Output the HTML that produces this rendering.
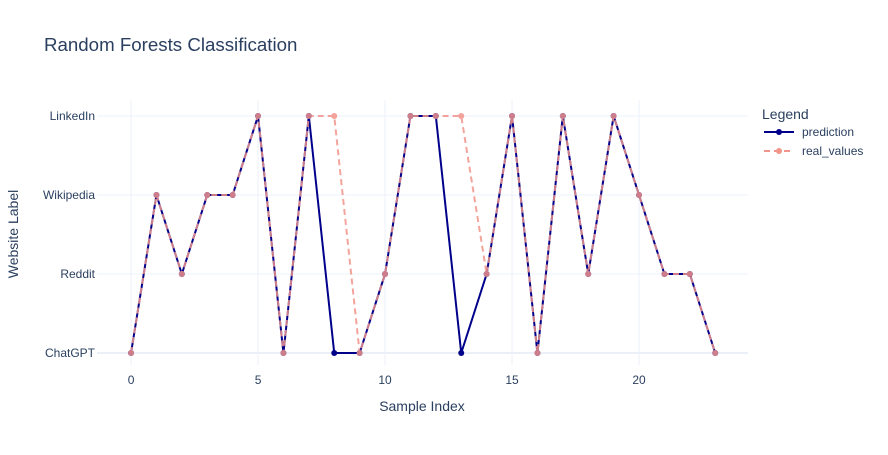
<!DOCTYPE html>
<html><head><meta charset="utf-8"><style>
body{margin:0;background:#fff;font-family:"Liberation Sans",Arial,sans-serif;}
svg text{font-family:"Liberation Sans",Arial,sans-serif;}
</style></head><body>
<svg id="chart" width="888" height="450" xmlns="http://www.w3.org/2000/svg">
<rect width="888" height="450" fill="#fff"/>
<text x="44" y="51" font-size="18.7" fill="#2a3f5f">Random Forests Classification</text>
<g id="grid"></g>
<g id="series"></g>
<text x="422" y="411" font-size="14" fill="#2a3f5f" text-anchor="middle">Sample Index</text>
<text transform="translate(18,234) rotate(-90)" font-size="14" fill="#2a3f5f" text-anchor="middle">Website Label</text>
<g>
<text x="762" y="119" font-size="14" fill="#2a3f5f">Legend</text>
<g>
<line x1="764" y1="132" x2="794" y2="132" stroke="#00008b" stroke-width="2"/>
<circle cx="779" cy="132" r="3" fill="#00008b"/>
<text x="802" y="136" font-size="12" fill="#2a3f5f">prediction</text></g>
<g>
<line x1="764" y1="151" x2="794" y2="151" stroke="#f1948a" stroke-width="2" stroke-dasharray="6,4"/>
<circle cx="779" cy="151" r="3" fill="#f1948a"/>
<text x="802" y="155" font-size="12" fill="#2a3f5f">real_values</text></g>
</g>
</svg>
<script>
const categories = ["ChatGPT","Reddit","Wikipedia","LinkedIn"];
const xTicks = [0,5,10,15,20];
const prediction = ["ChatGPT","Wikipedia","Reddit","Wikipedia","Wikipedia","LinkedIn","ChatGPT","LinkedIn","ChatGPT","ChatGPT","Reddit","LinkedIn","LinkedIn","ChatGPT","Reddit","LinkedIn","ChatGPT","LinkedIn","Reddit","LinkedIn","Wikipedia","Reddit","Reddit","ChatGPT"];
const realValues = ["ChatGPT","Wikipedia","Reddit","Wikipedia","Wikipedia","LinkedIn","ChatGPT","LinkedIn","LinkedIn","ChatGPT","Reddit","LinkedIn","LinkedIn","LinkedIn","Reddit","LinkedIn","ChatGPT","LinkedIn","Reddit","LinkedIn","Wikipedia","Reddit","Reddit","ChatGPT"];
const NS="http://www.w3.org/2000/svg";
const X0=97, X1=748, xmin=-1.34, xmax=24.29;
const xs=v=>X0+(v-xmin)/(xmax-xmin)*(X1-X0);
const ys=c=>353-categories.indexOf(c)*79;
function mk(t,a,p){const e=document.createElementNS(NS,t);for(const k in a)e.setAttribute(k,a[k]);p.appendChild(e);return e;}
const grid=document.getElementById('grid');
xTicks.forEach(t=>{
 const l=mk('line',{x1:xs(t),x2:xs(t),y1:100,y2:365,stroke:'#ebf0f8'},grid);
 
 
 const tx=mk('text',{x:xs(t),y:384,'font-size':12,fill:'#2a3f5f','text-anchor':'middle'},grid);
 tx.textContent=t;
 
 
});
categories.forEach(c=>{
 const l=mk('line',{x1:X0,x2:X1,y1:ys(c),y2:ys(c),stroke:'#ebf0f8','stroke-width':c==='ChatGPT'?2:1},grid);
 
 
 const tx=mk('text',{x:95,y:ys(c)+4,'font-size':12,fill:'#2a3f5f','text-anchor':'end'},grid);
 tx.textContent=c;
 
 
});
const ser=document.getElementById('series');
function draw(arr,color,dash,name,op){
 const g=mk('g',{opacity:op},ser);
 
 
 const p=mk('polyline',{points:arr.map((c,i)=>xs(i)+','+ys(c)).join(' '),fill:'none',stroke:color,'stroke-width':2,'stroke-dasharray':dash},g);
 
 
 arr.forEach((c,i)=>{
  const m=mk('circle',{cx:xs(i),cy:ys(c),r:3,fill:color},g);
  
  
 });
}
draw(prediction,'#00008b','none','prediction',1);
draw(realValues,'#f1948a','6,4','real-values',0.85);
</script>
</body></html>
